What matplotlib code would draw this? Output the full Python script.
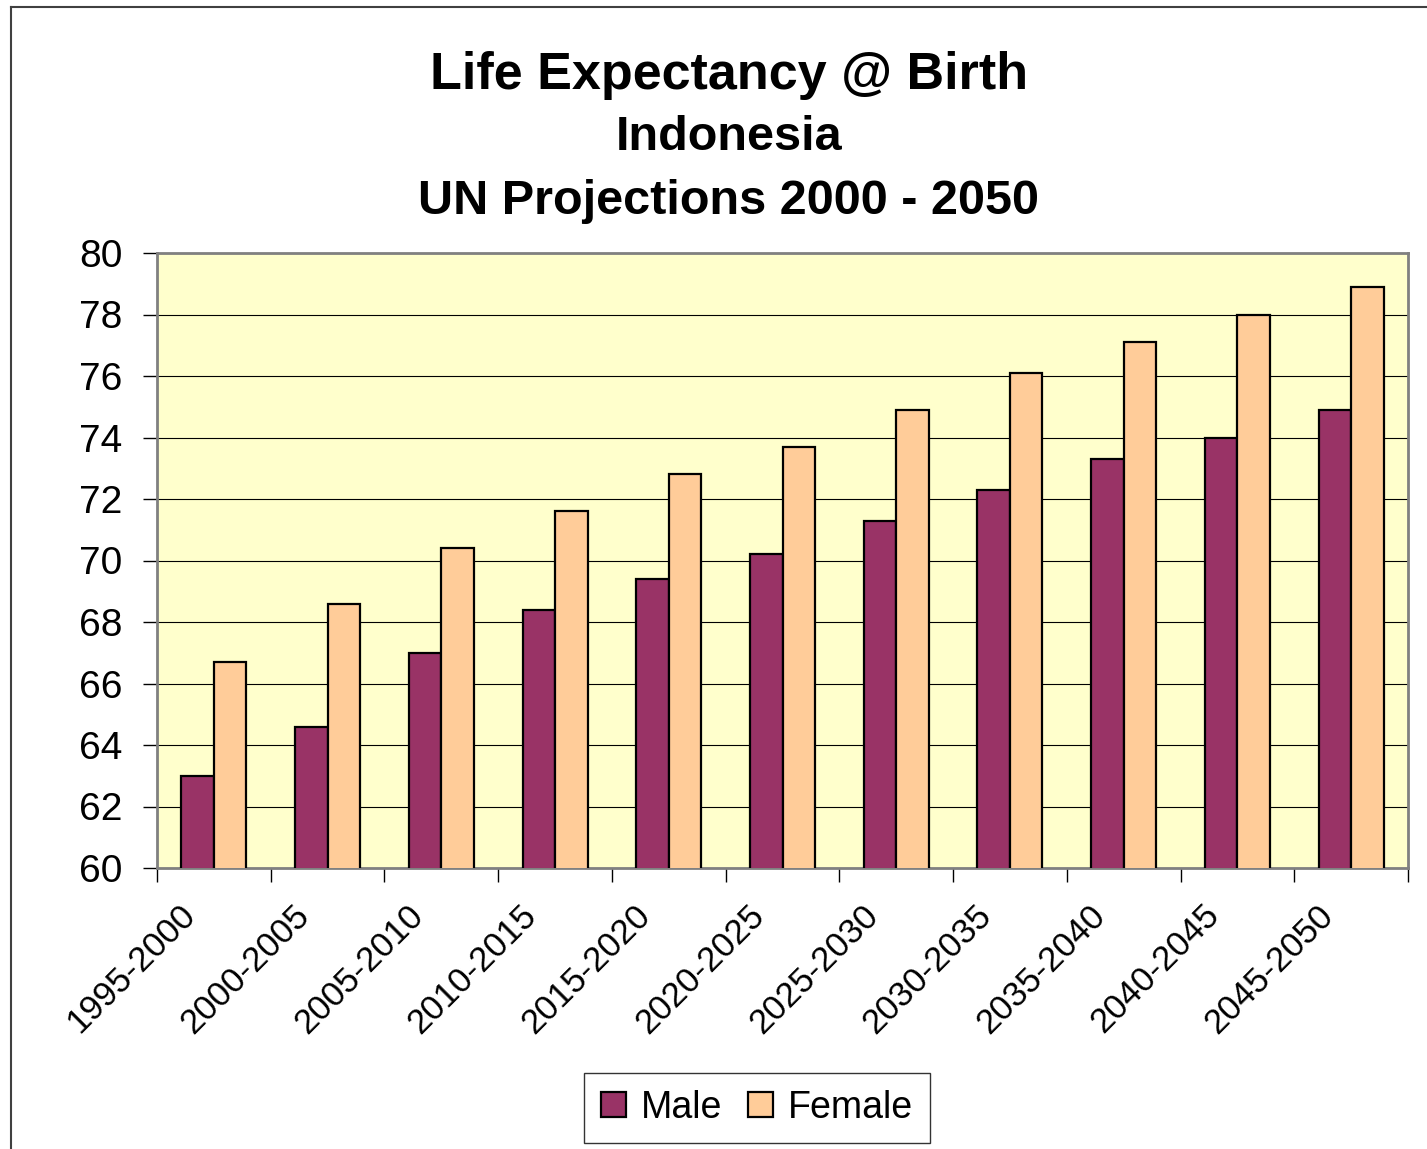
import matplotlib.pyplot as plt
import numpy as np
from matplotlib.lines import Line2D
from matplotlib.patches import Patch
from matplotlib.transforms import ScaledTranslation

periods = ['1995-2000', '2000-2005', '2005-2010', '2010-2015', '2015-2020',
           '2020-2025', '2025-2030', '2030-2035', '2035-2040', '2040-2045',
           '2045-2050']
male = [63.0, 64.6, 67.0, 68.4, 69.4, 70.2, 71.3, 72.3, 73.3, 74.0, 74.9]
female = [66.7, 68.6, 70.4, 71.6, 72.8, 73.7, 74.9, 76.1, 77.1, 78.0, 78.9]
y_ticks = [60, 62, 64, 66, 68, 70, 72, 74, 76, 78, 80]

plt.rcParams['font.family'] = ['Liberation Sans', 'DejaVu Sans']

fig = plt.figure(figsize=(14.27, 11.49), dpi=100)
ax = fig.add_axes([157 / 1427, 1 - 868 / 1149, (1408 - 157) / 1427, (868 - 253) / 1149])
ax.set_facecolor('#FFFFCC')

x = np.arange(len(periods))
w = 1 / 3.5
ax.bar(x - w / 2, male, w, color='#993366', edgecolor='black',
       linewidth=1.6, zorder=3, label='Male')
ax.bar(x + w / 2, female, w, color='#FFCC99', edgecolor='black',
       linewidth=1.6, zorder=3, label='Female')

ax.set_ylim(60, 80)
ax.set_xlim(-0.5, len(periods) - 0.5)
ax.set_yticks(y_ticks)
ax.yaxis.grid(True, color='black', linewidth=0.8, zorder=0)
ax.tick_params(axis='y', labelsize=28, length=10, width=1, direction='out', pad=15)

# x ticks at category boundaries, labels at centers
ax.set_xticks(np.arange(-0.5, len(periods), 1.0))
ax.set_xticklabels([])
ax.set_xticks(x, minor=True)
ax.set_xticklabels(periods, minor=True, rotation=45, ha='right',
                   rotation_mode='anchor', fontsize=25)
ax.tick_params(axis='x', which='major', length=10, width=1, direction='out')
ax.tick_params(axis='x', which='minor', length=0, pad=22)
shift = ScaledTranslation(-35 / 100, 0, fig.dpi_scale_trans)
for lbl in ax.get_xticklabels(minor=True):
    lbl.set_transform(lbl.get_transform() + shift)

for s in ax.spines.values():
    s.set_color('#808080')
    s.set_linewidth(2)

fig.text(729 / 1427, 1 - 75 / 1149, 'Life Expectancy @ Birth', ha='center',
         va='center', fontsize=37.5, fontweight='bold')
fig.text(729 / 1427, 1 - 138 / 1149, 'Indonesia', ha='center',
         va='center', fontsize=35, fontweight='bold')
fig.text(729 / 1427, 1 - 201 / 1149, 'UN Projections 2000 - 2050', ha='center',
         va='center', fontsize=35, fontweight='bold')

# outer chart border (left and top visible)
fig.add_artist(Line2D([11 / 1427, 11 / 1427], [0, 1 - 7 / 1149],
                      transform=fig.transFigure, color='#404040', linewidth=1.5))
fig.add_artist(Line2D([11 / 1427, 1], [1 - 7 / 1149, 1 - 7 / 1149],
                      transform=fig.transFigure, color='#404040', linewidth=1.5))

handles = [Patch(facecolor='#993366', edgecolor='black', linewidth=1.6, label='Male'),
           Patch(facecolor='#FFCC99', edgecolor='black', linewidth=1.6, label='Female')]
leg = fig.legend(handles=handles, loc='center', bbox_to_anchor=(757 / 1427, 1 - 1108 / 1149),
                 ncol=2, fontsize=27, frameon=True, fancybox=False,
                 handlelength=0.65, handleheight=0.65, handletextpad=0.4,
                 columnspacing=0.7, borderpad=0.45)
leg.get_frame().set_edgecolor('black')
leg.get_frame().set_linewidth(1)

fig.savefig('out.png', dpi=100)
